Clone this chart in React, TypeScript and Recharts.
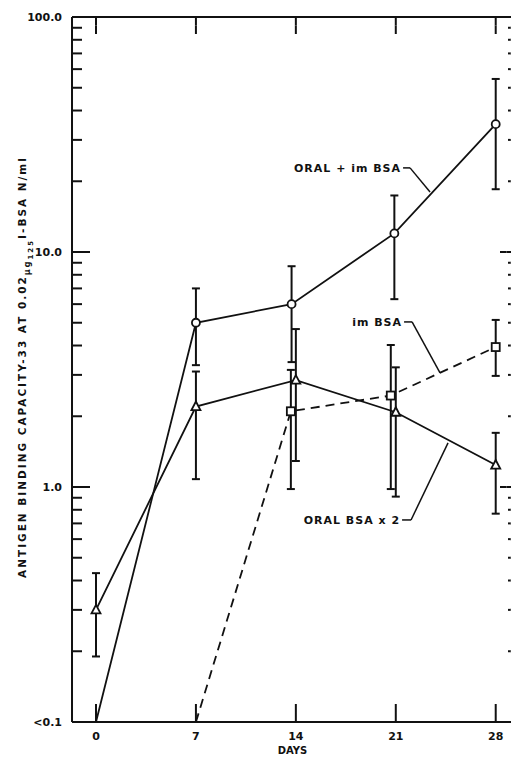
import {
  LineChart,
  Line,
  XAxis,
  YAxis,
  ErrorBar,
  ReferenceLine,
  ReferenceDot,
} from 'recharts';

// ORAL + im BSA (open circles)
const circleDays = [0, 7, 13.7, 20.9, 28];
const circleValues = [0.1, 5.0, 6.0, 12, 35];
const circleLow = [null, 3.3, 3.4, 6.3, 18.5];
const circleHigh = [null, 7.0, 8.7, 17.4, 54.5];

// ORAL BSA x 2 (open triangles)
const triangleDays = [0, 7, 14, 21, 28];
const triangleValues = [0.3, 2.2, 2.85, 2.08, 1.24];
const triangleLow = [0.19, 1.08, 1.29, 0.91, 0.77];
const triangleHigh = [0.43, 3.1, 4.7, 3.23, 1.7];

// im BSA (open squares, dashed)
const squareDays = [7, 13.65, 20.65, 28];
const squareValues = [0.1, 2.1, 2.45, 3.94];
const squareLow = [null, 0.98, 0.98, 2.97];
const squareHigh = [null, 3.15, 4.02, 5.14];

const dayTicks = [0, 7, 14, 21, 28];
const majorTicks = [0.1, 1, 10, 100];
const majorLabels = ['<0.1', '1.0', '10.0', '100.0'];
const minorTicks = [
  0.2, 0.3, 0.4, 0.5, 0.6, 0.7, 0.8, 0.9,
  2, 3, 4, 5, 6, 7, 8, 9,
  20, 30, 40, 50, 60, 70, 80, 90,
];

// limit of detection: points at this value are drawn without a marker
const LIMIT = 0.1;
const INK = '#111';
// axes get a near-zero size so they sit right on the plot frame
const THIN = 0.01;
const X_DOMAIN: [number, number] = [-1.68, 29.21];
const Y_DOMAIN: [number, number] = [0.1, 100];
const PLOT_W = 441;
const PLOT_H = 705;

// pixel lengths of the inward tick marks, turned into data units
const dayPerPx = (X_DOMAIN[1] - X_DOMAIN[0]) / PLOT_W;
const decadePerPx = Math.log10(Y_DOMAIN[1] / Y_DOMAIN[0]) / PLOT_H;
const up = (v: number, px: number) => v * Math.pow(10, px * decadePerPx);

type Pt = [number, number];
type Seg = [Pt, Pt];
// each tick is drawn as two halves
const vTick = (d: number, y0: number, px: number): Seg[] => [
  [[d, y0], [d, up(y0, px / 2)]],
  [[d, up(y0, px / 2)], [d, up(y0, px)]],
];
const hTick = (v: number, x0: number, px: number): Seg[] => [
  [[x0, v], [x0 + (px / 2) * dayPerPx, v]],
  [[x0 + (px / 2) * dayPerPx, v], [x0 + px * dayPerPx, v]],
];

const tickSegs: Seg[] = [
  ...dayTicks.flatMap((d) => vTick(d, Y_DOMAIN[0], 18)),
  ...dayTicks.flatMap((d) => vTick(d, Y_DOMAIN[1], -17)),
  ...majorTicks.flatMap((v) => hTick(v, X_DOMAIN[0], 18)),
  ...minorTicks.flatMap((v) => hTick(v, X_DOMAIN[0], 10)),
  ...majorTicks.flatMap((v) => hTick(v, X_DOMAIN[1], -13)),
  ...minorTicks.flatMap((v) => hTick(v, X_DOMAIN[1], -5)),
];

type Row = { day: number; value: number; err?: [number, number] };

function toRows(days: number[], values: number[], low: (number | null)[], high: (number | null)[]): Row[] {
  return days.map((d, i) => {
    const lo = low[i];
    const hi = high[i];
    return {
      day: d,
      value: values[i],
      err: lo == null || hi == null ? undefined : [values[i] - lo, hi - values[i]],
    };
  });
}

const circleRows = toRows(circleDays, circleValues, circleLow, circleHigh);
const triangleRows = toRows(triangleDays, triangleValues, triangleLow, triangleHigh);
const squareRows = toRows(squareDays, squareValues, squareLow, squareHigh);

const CircleDot = (p: any) => {
  if (p.payload.value <= LIMIT) return <g key={`c${p.index}`} />;
  return <circle key={`c${p.index}`} cx={p.cx} cy={p.cy} r={4} fill="#fff" stroke={INK} strokeWidth={1.8} />;
};

const SquareDot = (p: any) => {
  if (p.payload.value <= LIMIT) return <g key={`s${p.index}`} />;
  return <rect key={`s${p.index}`} x={p.cx - 4} y={p.cy - 4} width={8} height={8} fill="#fff" stroke={INK} strokeWidth={1.8} />;
};

const TriangleDot = (p: any) => {
  if (p.payload.value <= LIMIT) return <g key={`t${p.index}`} />;
  const { cx, cy } = p;
  return (
    <path
      key={`t${p.index}`}
      d={`M${cx},${cy - 5}L${cx + 4.5},${cy + 3.5}L${cx - 4.5},${cy + 3.5}Z`}
      fill="#fff"
      stroke={INK}
      strokeWidth={1.8}
    />
  );
};

const labelFont = { fontSize: 11, fontWeight: 'bold' as const, fill: INK, fontFamily: 'DejaVu Sans' };

const YLabel = () => (
  <text
    x={26}
    y={367}
    transform="rotate(-90 26 367)"
    textAnchor="middle"
    fontSize={10.5}
    fontWeight="bold"
    fill={INK}
    style={{ letterSpacing: 2 }}
  >
    ANTIGEN BINDING CAPACITY-33 AT 0.02
    <tspan fontSize={8} dy={4}>µg</tspan>
    <tspan fontSize={7} dy={3}>125</tspan>
    <tspan fontSize={10.5} dy={-7}>I-BSA N/ml</tspan>
  </text>
);

const noteFont = { fontSize: 11, fontWeight: 'bold', fill: INK, style: { letterSpacing: 1 } };
const axisLine = { stroke: INK, strokeWidth: 2 };

// callouts: leader start is where the text ends
const notes = [
  { text: 'ORAL + im BSA', path: [[21.51, 22.8], [22.0, 22.8], [23.4, 18.0]] },
  { text: 'im BSA', path: [[21.58, 5.04], [22.14, 5.04], [24.1, 3.06]] },
  { text: 'ORAL BSA x 2', path: [[21.44, 0.724], [22.07, 0.724], [24.66, 1.54]] },
];

export default function App() {
  return (
    <div
      style={{
        position: 'absolute',
        left: 0,
        top: 0,
        width: 511,
        height: 758,
        overflow: 'hidden',
        background: '#fff',
        fontFamily: 'DejaVu Sans',
      }}
    >
      <LineChart width={520} height={758} margin={{ top: 17, right: 7, bottom: 36, left: 72 }}>
        <XAxis
          xAxisId="B"
          type="number"
          dataKey="day"
          domain={X_DOMAIN}
          allowDataOverflow
          ticks={dayTicks}
          interval={0}
          height={THIN}
          tickSize={0}
          tickMargin={10}
          tick={labelFont}
          axisLine={axisLine}
          tickLine={false}
          label={{ value: 'DAYS', position: 'bottom', offset: 25, ...labelFont, fontSize: 10 }}
        />
        <XAxis
          xAxisId="T"
          orientation="top"
          type="number"
          domain={X_DOMAIN}
          allowDataOverflow
          height={THIN}
          tick={false}
          axisLine={axisLine}
          tickLine={false}
        />
        <YAxis
          yAxisId="L"
          type="number"
          scale="log"
          domain={Y_DOMAIN}
          allowDataOverflow
          ticks={majorTicks}
          interval={0}
          tickFormatter={(v: number) => majorLabels[majorTicks.indexOf(v)] ?? ''}
          width={THIN}
          tickSize={0}
          tickMargin={10}
          tick={labelFont}
          axisLine={axisLine}
          tickLine={false}
          label={{ content: YLabel }}
        />
        <YAxis
          yAxisId="R"
          orientation="right"
          type="number"
          scale="log"
          domain={Y_DOMAIN}
          allowDataOverflow
          width={THIN}
          tick={false}
          axisLine={axisLine}
          tickLine={false}
        />

        {tickSegs.map((s, i) => (
          <ReferenceLine
            key={`tick-${i}`}
            xAxisId="B"
            yAxisId="L"
            segment={[
              { x: s[0][0], y: s[0][1] },
              { x: s[1][0], y: s[1][1] },
            ]}
            stroke={INK}
            strokeWidth={2}
            ifOverflow="visible"
          />
        ))}

        <Line
          xAxisId="B"
          yAxisId="L"
          data={squareRows}
          dataKey="value"
          type="linear"
          stroke={INK}
          strokeWidth={1.8}
          strokeDasharray="9 6"
          dot={SquareDot}
          activeDot={false}
          isAnimationActive={false}
        >
          <ErrorBar dataKey="err" direction="y" width={4} stroke={INK} strokeWidth={2} isAnimationActive={false} />
        </Line>
        <Line
          xAxisId="B"
          yAxisId="L"
          data={triangleRows}
          dataKey="value"
          type="linear"
          stroke={INK}
          strokeWidth={1.8}
          dot={TriangleDot}
          activeDot={false}
          isAnimationActive={false}
        >
          <ErrorBar dataKey="err" direction="y" width={4} stroke={INK} strokeWidth={2} isAnimationActive={false} />
        </Line>
        <Line
          xAxisId="B"
          yAxisId="L"
          data={circleRows}
          dataKey="value"
          type="linear"
          stroke={INK}
          strokeWidth={1.8}
          dot={CircleDot}
          activeDot={false}
          isAnimationActive={false}
        >
          <ErrorBar dataKey="err" direction="y" width={4} stroke={INK} strokeWidth={2} isAnimationActive={false} />
        </Line>

        {notes.map((n) =>
          n.path.slice(1).map((pt, i) => (
            <ReferenceLine
              key={`${n.text}-${i}`}
              xAxisId="B"
              yAxisId="L"
              segment={[
                { x: n.path[i][0], y: n.path[i][1] },
                { x: pt[0], y: pt[1] },
              ]}
              stroke={INK}
              strokeWidth={1.5}
              ifOverflow="visible"
            />
          ))
        )}
        {notes.map((n) => (
          <ReferenceDot
            key={n.text}
            xAxisId="B"
            yAxisId="L"
            x={n.path[0][0]}
            y={n.path[0][1]}
            r={1}
            fill="none"
            stroke="none"
            label={{ value: n.text, position: 'left', offset: 1, ...noteFont }}
          />
        ))}
      </LineChart>
    </div>
  );
}
